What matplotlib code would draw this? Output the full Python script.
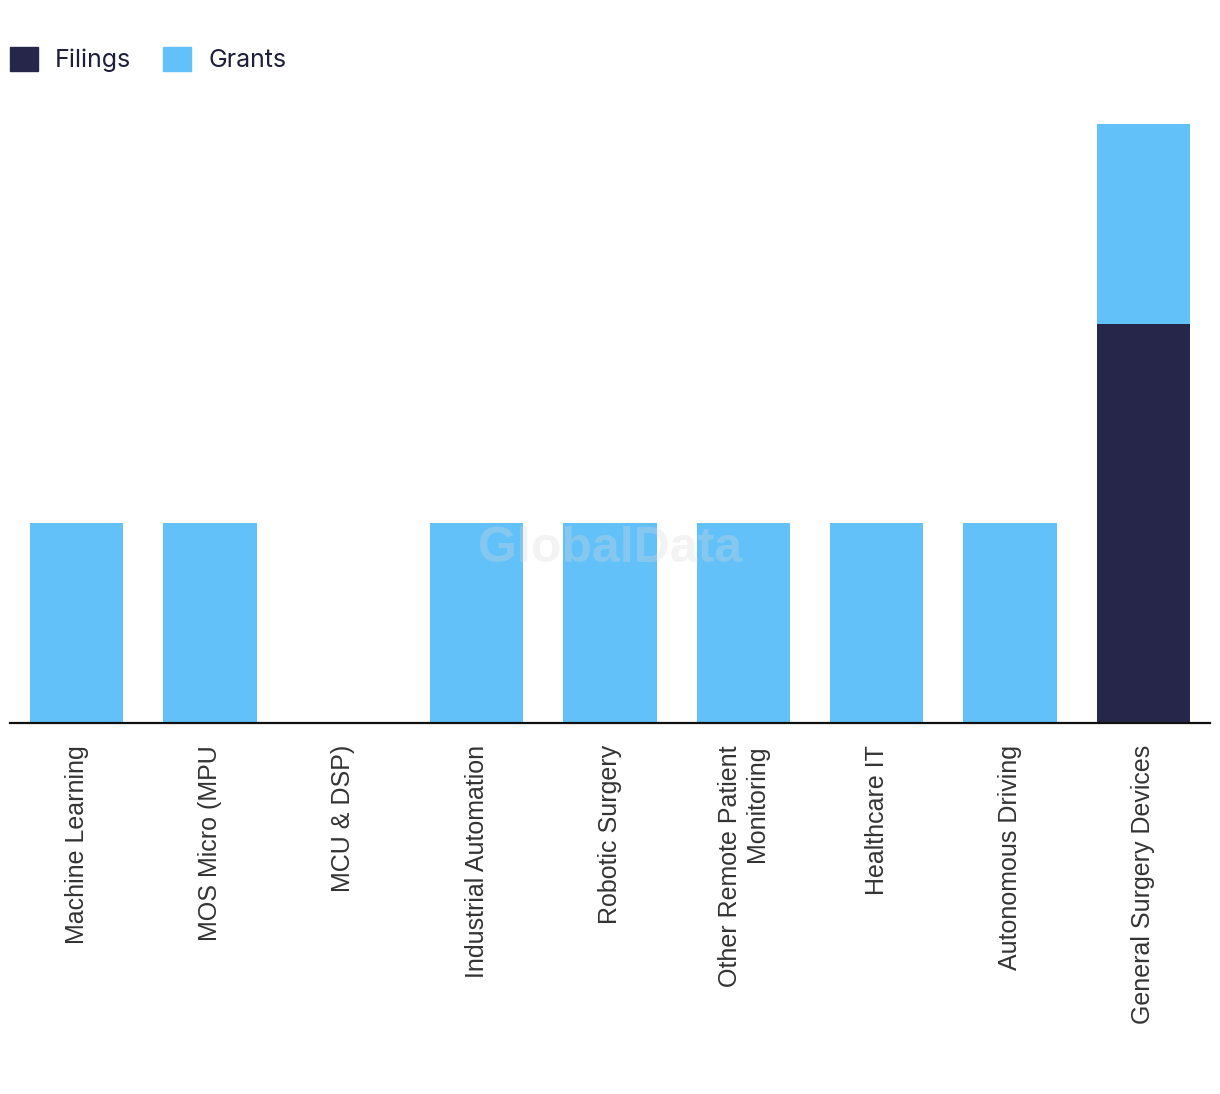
import numpy as np
import matplotlib.pyplot as plt
from matplotlib.patches import Patch

categories = [
    'Machine Learning', 'MOS Micro (MPU', 'MCU & DSP)', 'Industrial Automation',
    'Robotic Surgery', 'Other Remote Patient\nMonitoring', 'Healthcare IT',
    'Autonomous Driving', 'General Surgery Devices',
]
filings = [0, 0, 0, 0, 0, 0, 0, 0, 2]
grants = [1, 1, 0, 1, 1, 1, 1, 1, 1]

NAVY = '#26264a'
BLUE = '#62c1f8'

fig = plt.figure(figsize=(12.2, 10.94), dpi=100)
ax = fig.add_axes([10 / 1220, 371 / 1094, 1200 / 1220, 599 / 1094])

x = np.arange(len(categories))
ax.bar(x, filings, width=0.7, color=NAVY, label='Filings')
ax.bar(x, grants, width=0.7, bottom=filings, color=BLUE, label='Grants')

ax.set_xlim(-0.5, len(categories) - 0.5)
ax.set_ylim(0, 3)
ax.set_yticks([])
for side in ['top', 'right', 'left']:
    ax.spines[side].set_visible(False)
ax.spines['bottom'].set_linewidth(1.6)
ax.spines['bottom'].set_color('#111111')

ax.set_xticks(x)
ax.set_xticklabels(categories, rotation=90, ha='center', va='top',
                   multialignment='right', fontsize=18, linespacing=1.15,
                   family=['Liberation Sans', 'DejaVu Sans'], color='#333333')
ax.tick_params(axis='x', length=0, pad=16)

# watermark
ax.text(0.5, 0.29, 'GlobalData', transform=ax.transAxes, ha='center', va='center',
        fontsize=36, fontweight='bold', family=['Liberation Sans', 'DejaVu Sans'],
        color='#d8d8d8', alpha=0.3, zorder=5)

handles = [Patch(color=NAVY, label='Filings'), Patch(color=BLUE, label='Grants')]
fig.legend(handles=handles, loc='center left', bbox_to_anchor=(10 / 1220, 1 - 59.5 / 1094),
           ncol=2, frameon=False, handlelength=1.12, handleheight=1.1,
           handletextpad=0.68, columnspacing=1.28, borderaxespad=0, borderpad=0,
           prop={'family': ['Inter', 'DejaVu Sans'], 'size': 18},
           labelcolor='#1e1e3a')

fig.savefig('out.png', dpi=100)
